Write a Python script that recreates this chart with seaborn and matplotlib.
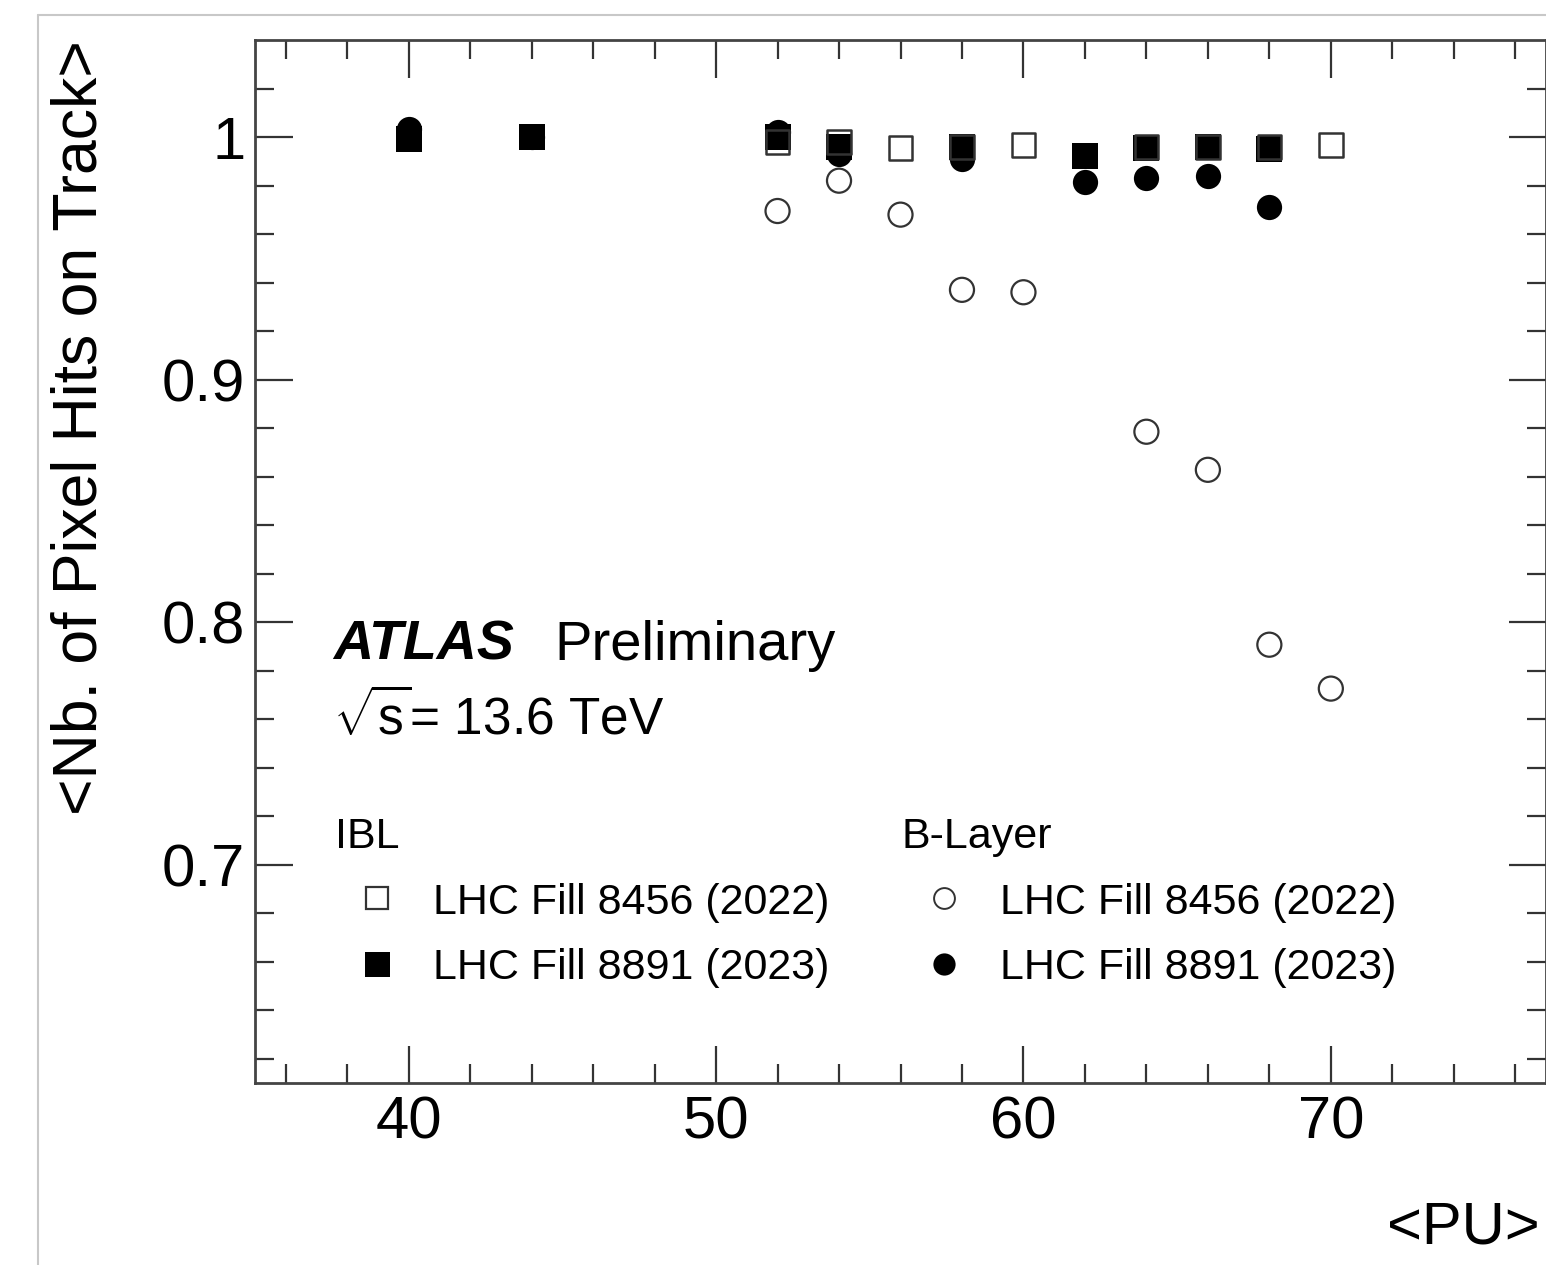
import matplotlib
matplotlib.use("Agg")
import matplotlib.pyplot as plt
from matplotlib.lines import Line2D
import seaborn as sns



# Data
pu_2022 = [52, 54, 56, 58, 60, 64, 66, 68, 70]
ibl_2022 = [0.998, 0.998, 0.9955, 0.996, 0.9967, 0.996, 0.996, 0.996, 0.9967]
blayer_2022 = [0.9695, 0.982, 0.968, 0.937, 0.936, 0.8785, 0.8628, 0.7907, 0.7726]

pu_2023 = [40, 44, 52, 54, 58, 62, 64, 66, 68]
ibl_2023 = [0.9992, 1.0, 1.0, 0.996, 0.996, 0.992, 0.9955, 0.9957, 0.995]
blayer_2023 = [1.0033, 1.0, 1.002, 0.993, 0.991, 0.9815, 0.983, 0.984, 0.971]

legend_labels = ["LHC Fill 8456 (2022)", "LHC Fill 8891 (2023)"]



# Style
sns.set_theme(style="ticks")
plt.rcParams["font.family"] = ["Liberation Sans", "DejaVu Sans"]
plt.rcParams["mathtext.fontset"] = "custom"
plt.rcParams["mathtext.rm"] = "Liberation Sans"
plt.rcParams["mathtext.it"] = "Liberation Sans:italic"
plt.rcParams["text.color"] = "black"
plt.rcParams["axes.labelcolor"] = "black"
plt.rcParams["xtick.labelcolor"] = "black"
plt.rcParams["ytick.labelcolor"] = "black"

fig = plt.figure(figsize=(15.46, 12.65), dpi=100)
ax = fig.add_axes([255 / 1546, 182 / 1265, 1291 / 1546, 1043 / 1265])



# Filled markers first, open markers on top
sns.scatterplot(x=pu_2023, y=ibl_2023, ax=ax, marker="s", s=370,
                color="black", edgecolor="black", linewidth=0, zorder=3)
sns.scatterplot(x=pu_2023, y=blayer_2023, ax=ax, marker="o", s=330,
                color="black", edgecolor="black", linewidth=0, zorder=3)
sns.scatterplot(x=pu_2022, y=ibl_2022, ax=ax, marker="s", s=290,
                color="black", facecolor="none", edgecolor="#333333",
                linewidth=1.8, zorder=4)
sns.scatterplot(x=pu_2022, y=blayer_2022, ax=ax, marker="o", s=300,
                color="black", facecolor="none", edgecolor="#333333",
                linewidth=1.6, zorder=4)



# Axes
ax.set_xlim(35, 77)
ax.set_ylim(0.61, 1.04)
ax.set_xticks([40, 50, 60, 70])
ax.set_xticks(range(36, 77, 2), minor=True)
ax.set_yticks([0.7, 0.8, 0.9, 1.0])
ax.set_yticklabels(["0.7", "0.8", "0.9", "1"])
ax.set_yticks([0.62 + 0.02 * i for i in range(21)], minor=True)

ax.tick_params(which="both", direction="in", top=True, right=True,
               color="#333333", width=1.6, labelsize=43)
ax.tick_params(which="major", length=27)
ax.tick_params(which="minor", length=14)
ax.tick_params(axis="x", pad=9)
ax.tick_params(axis="y", pad=7)

for spine in ax.spines.values():
    spine.set_linewidth(2)
    spine.set_color("#444444")

ax.set_xlabel("<PU>", fontsize=43, loc="right")
ax.set_ylabel("<Nb. of Pixel Hits on Track>", fontsize=45, loc="top")
ax.xaxis.set_label_coords(0.9954, -0.1122)
ax.yaxis.set_label_coords(-0.1126, 1.0)



# ATLAS label
ax.text(0.0604, 0.4056, "ATLAS", transform=ax.transAxes, fontsize=40,
        fontweight="bold", fontstyle="italic", va="baseline")
ax.text(0.232, 0.4056, "Preliminary", transform=ax.transAxes, fontsize=40.5,
        va="baseline")
ax.text(0.0604, 0.334, r"$\sqrt{\mathrm{s}}$= 13.6 TeV", transform=ax.transAxes,
        fontsize=37, va="baseline")



# Legends
ibl_handles = [
    Line2D([], [], marker="s", ls="", ms=16, mfc="none", mec="#333333", mew=1.6),
    Line2D([], [], marker="s", ls="", ms=18, mfc="black", mec="black", mew=0),
]
bl_handles = [
    Line2D([], [], marker="o", ls="", ms=15, mfc="none", mec="#333333", mew=1.4),
    Line2D([], [], marker="o", ls="", ms=16, mfc="black", mec="black", mew=0),
]

leg_kw = dict(frameon=False, fontsize=31, title_fontsize=31, alignment="left",
              handlelength=1.95, handletextpad=0.33, labelspacing=0.60,
              borderpad=0, borderaxespad=0, loc="upper left")

leg1 = ax.legend(ibl_handles, legend_labels, title="IBL",
                 bbox_to_anchor=(0.0619, 0.2553), **leg_kw)
ax.add_artist(leg1)
ax.legend(bl_handles, legend_labels, title="B-Layer",
          bbox_to_anchor=(0.5011, 0.2553), **leg_kw)



# Canvas border
fig.add_artist(Line2D([38 / 1546, 38 / 1546], [0, 1 - 15 / 1265],
                      transform=fig.transFigure, color="#c8c8c8", lw=1.5))
fig.add_artist(Line2D([38 / 1546, 1], [1 - 15 / 1265, 1 - 15 / 1265],
                      transform=fig.transFigure, color="#c8c8c8", lw=1.5))

fig.savefig("out.png", dpi=100)
